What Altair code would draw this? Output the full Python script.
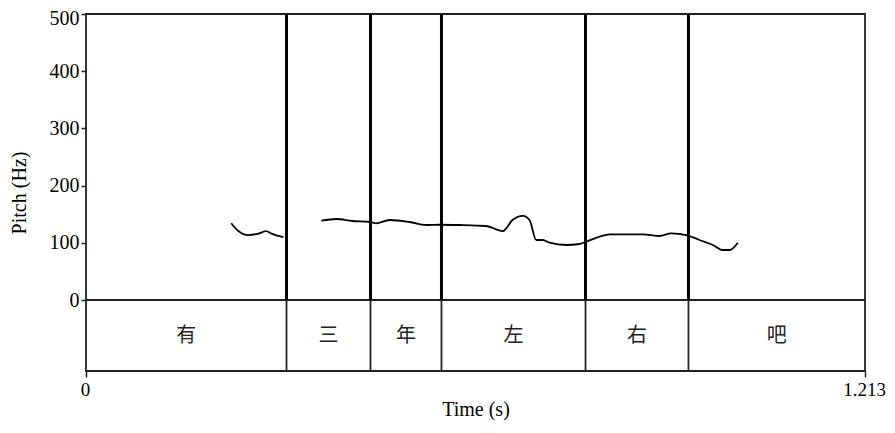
import altair as alt
import pandas as pd

# Pitch contour (time in s, pitch in Hz), two voiced stretches
seg1_time = [0.2261, 0.2339, 0.2515, 0.2671, 0.2806, 0.2889, 0.3040, 0.3075]
seg1_hz = [134.1, 124.0, 113.6, 115.5, 120.6, 116.0, 110.7, 110.0]

seg2_time = [0.3663, 0.3896, 0.4150, 0.4415, 0.4519, 0.4726, 0.5038, 0.5298,
             0.5505, 0.5816, 0.6232, 0.6490, 0.6641, 0.6802, 0.6906, 0.7010,
             0.7113, 0.7218, 0.7478, 0.7685, 0.7789, 0.7996, 0.8152, 0.8671,
             0.8931, 0.9113, 0.9346, 0.9553, 0.9761, 0.9916, 1.0021, 1.0150]
seg2_hz = [138.6, 141.6, 138.1, 136.4, 134.1, 139.9, 136.4, 131.1,
           131.6, 131.1, 129.4, 120.6, 139.9, 147.0, 139.9, 104.9,
           104.9, 100.2, 96.2, 97.9, 102.0, 110.7, 114.9, 114.9,
           111.9, 116.6, 113.6, 104.9, 96.2, 87.4, 87.4, 100.2]

# TextGrid tier
boundaries = [0.0, 0.3122, 0.4430, 0.5535, 0.7778, 0.9381, 1.213]
syllables = ["有", "三", "年", "左", "右", "吧"]

y_ticks = [0, 100, 200, 300, 400, 500]
x_ticks = [0, 1.213]
x_max = 1.213
y_max = 500
tier_bottom = -124.1

pitch_df = pd.DataFrame({
    "t": seg1_time + seg2_time,
    "hz": seg1_hz + seg2_hz,
    "seg": [1] * len(seg1_time) + [2] * len(seg2_time),
})
inner = boundaries[1:-1]
bound_df = pd.DataFrame({"t": inner})
label_df = pd.DataFrame({
    "t": [(boundaries[i] + boundaries[i + 1]) / 2 for i in range(len(syllables))],
    "label": syllables,
})

FONT = "Liberation Serif"
FS = 20
xscale = alt.Scale(domain=[0, x_max], nice=False, zero=False)
yscale = alt.Scale(domain=[tier_bottom, y_max], nice=False, zero=False)

x_axis = alt.Axis(values=x_ticks,
                  labelExpr="datum.value == 0 ? '0' : format(datum.value, '.3f')",
                  domain=False, grid=False, tickSize=6, tickColor="#222",
                  tickWidth=1.5, labelPadding=3, titlePadding=0, labelOffset=-1,
                  labelFontSize=19, titleFontSize=FS, labelFont=FONT, titleFont=FONT,
                  labelColor="black", titleColor="black", titleFontWeight="normal",
                  labelFlush=False)
y_axis = alt.Axis(values=y_ticks, domain=False, grid=False, tickSize=5,
                  tickColor="#222", tickWidth=1.5, labelPadding=2,
                  labelBaseline={"condition": {"test": "datum.value == 500", "value": "top"},
                                 "value": "middle"},
                  labelOffset={"condition": {"test": "datum.value == 500", "value": -6},
                               "value": 0},
                  labelFontSize=FS, titleFontSize=FS, labelFont=FONT, titleFont=FONT,
                  labelColor="black", titleColor="black", titleFontWeight="normal",
                  titleX=-67, titleBaseline="middle")


def X():
    return alt.X("t:Q", scale=xscale, title="Time (s)", axis=x_axis)


pitch = alt.Chart(pitch_df).mark_line(
    color="black", strokeWidth=1.8, interpolate="monotone"
).encode(
    x=X(),
    y=alt.Y("hz:Q", scale=yscale, title="Pitch (Hz)", axis=y_axis),
    detail="seg:N",
)

zero_rule = alt.Chart(bound_df).mark_rule(color="#222", strokeWidth=1.5).encode(
    y=alt.datum(0)
)

bounds_thick = alt.Chart(bound_df).mark_rule(color="black", strokeWidth=3).encode(
    x=X(),
    y=alt.datum(0),
    y2=alt.datum(y_max),
)
bounds_thin = alt.Chart(bound_df).mark_rule(color="#222", strokeWidth=1.8).encode(
    x=X(),
    y=alt.datum(tier_bottom),
    y2=alt.datum(0),
)

labels = alt.Chart(label_df).mark_text(
    font="Noto Sans CJK SC", fontSize=20, color="#222", baseline="middle", align="center"
).encode(
    x=X(),
    y=alt.datum(tier_bottom / 2),
    text="label:N",
)

chart = alt.layer(pitch, zero_rule, bounds_thick, bounds_thin, labels).properties(
    width=779, height=357,
    background="white",
    autosize=alt.AutoSizeParams(type="none"),
    padding={"left": 78, "top": 6, "right": 22, "bottom": 50},
).configure_view(stroke="#222", strokeWidth=1.8)

chart.save("out.html", embed_options={"renderer": "svg", "actions": False})
